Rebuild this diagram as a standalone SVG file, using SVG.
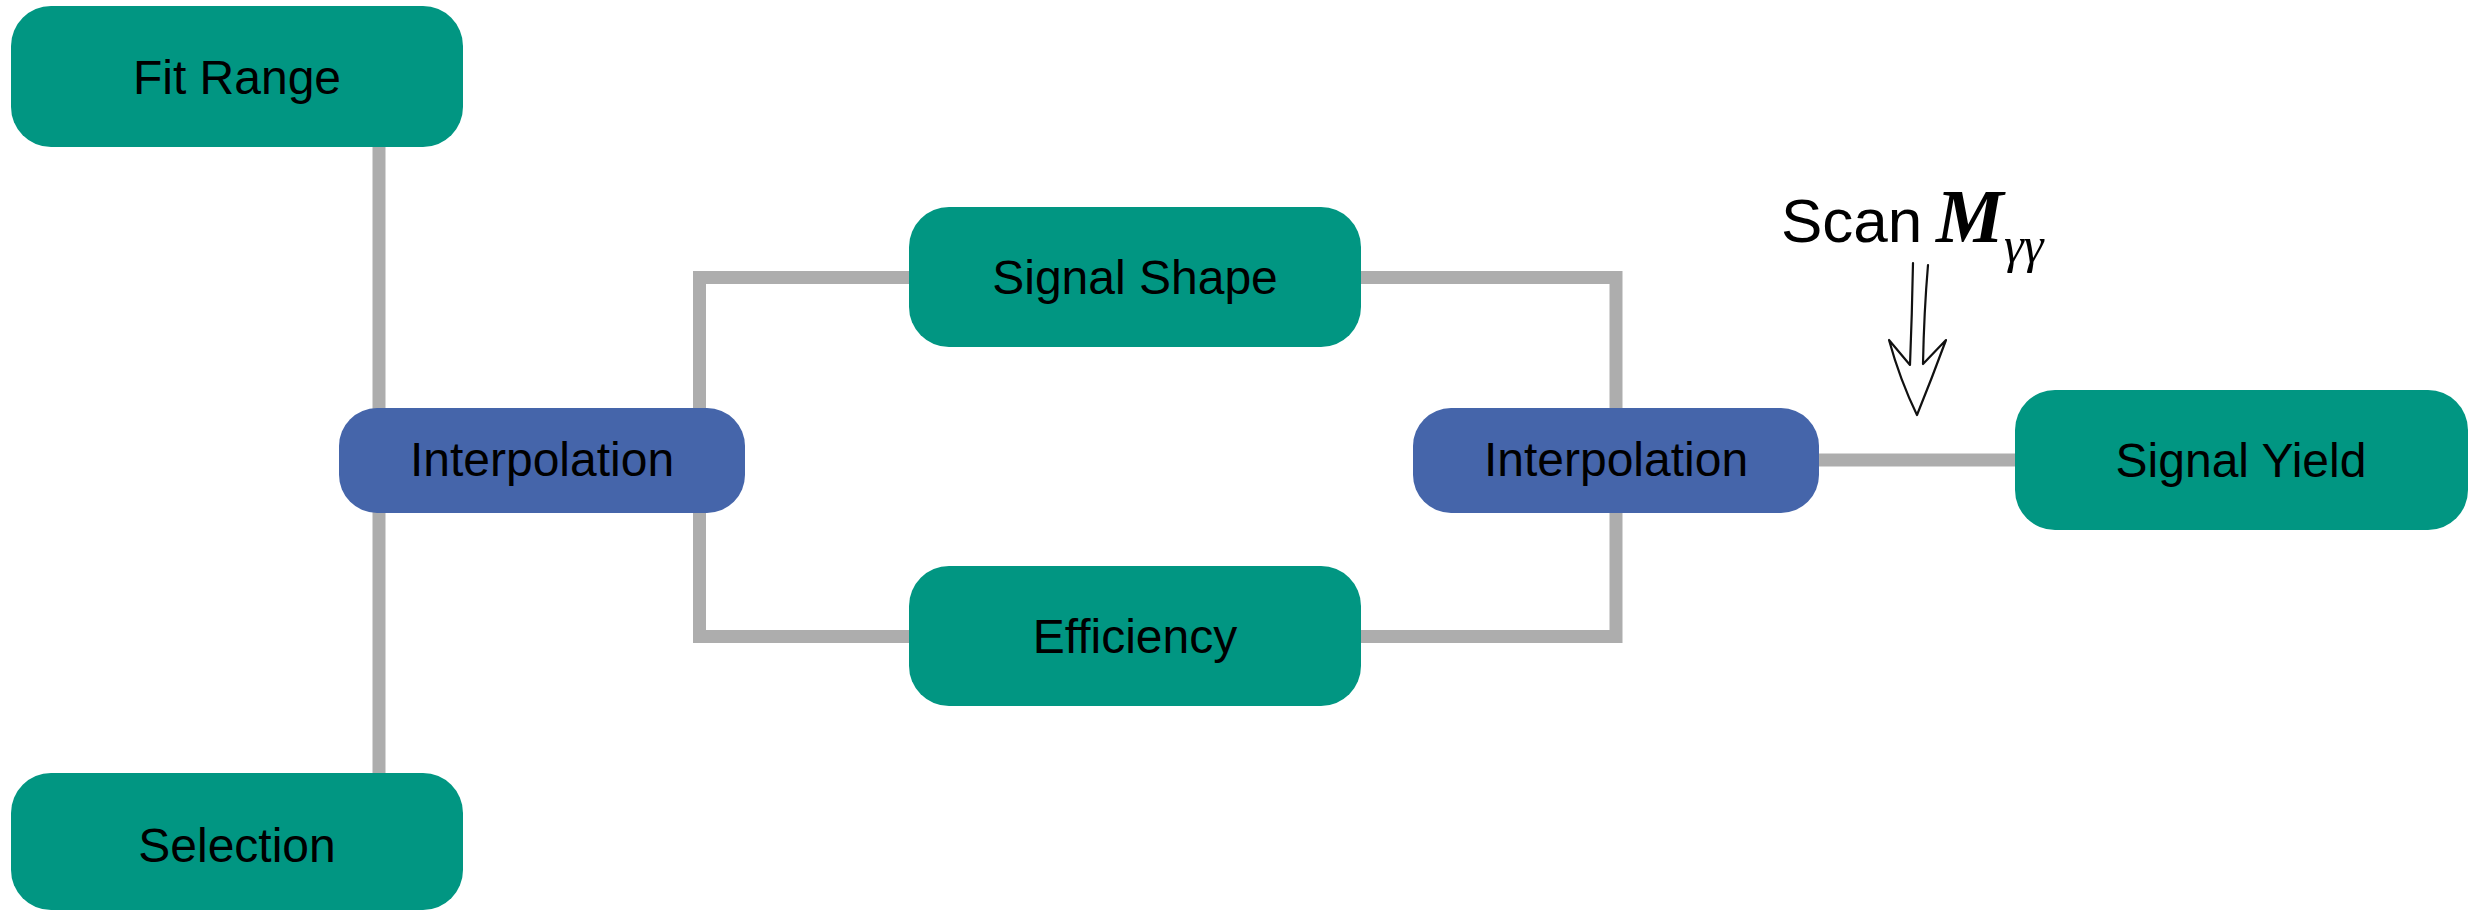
<svg xmlns="http://www.w3.org/2000/svg" width="2475" height="911" viewBox="0 0 2475 911">
  <style>
    .wire { fill: none; stroke: #adadad; stroke-width: 13; stroke-linejoin: miter; stroke-linecap: butt; }
    .step { fill: #019682; }
    .interp { fill: #4565aa; }
    .label { font-family: "Liberation Sans", Arial, sans-serif; font-size: 48px; fill: #000; text-anchor: middle; }
    .scan { font-family: "Liberation Sans", Arial, sans-serif; font-size: 62px; fill: #000; }
    .math { font-family: "Liberation Serif", "Times New Roman", serif; font-style: italic; fill: #000; }
    .pen { fill: none; stroke: #111; stroke-width: 2.2; stroke-linecap: round; stroke-linejoin: round; }
  </style>

  <!-- connectors, drawn beneath the boxes -->
  <g id="connectors">
    <path class="wire" d="M379 147 V773"/>
    <path class="wire" d="M909 277.5 H699.5 V636.5 H909"/>
    <path class="wire" d="M1361 277.5 H1616 V636.5 H1361"/>
    <path class="wire" d="M1819 460 H2015"/>
  </g>

  <g id="fit-range">
    <rect class="step" x="11" y="6" width="452" height="141" rx="40" ry="40"/>
    <text class="label" x="237" y="94">Fit Range</text>
  </g>

  <g id="selection">
    <rect class="step" x="11" y="773" width="452" height="137" rx="40" ry="40"/>
    <text class="label" x="237" y="862">Selection</text>
  </g>

  <g id="interpolation-left">
    <rect class="interp" x="339" y="408" width="406" height="105" rx="38" ry="38"/>
    <text class="label" x="542" y="476">Interpolation</text>
  </g>

  <g id="signal-shape">
    <rect class="step" x="909" y="207" width="452" height="140" rx="40" ry="40"/>
    <text class="label" x="1135" y="294">Signal Shape</text>
  </g>

  <g id="efficiency">
    <rect class="step" x="909" y="566" width="452" height="140" rx="40" ry="40"/>
    <text class="label" x="1135" y="653">Efficiency</text>
  </g>

  <g id="interpolation-right">
    <rect class="interp" x="1413" y="408" width="406" height="105" rx="38" ry="38"/>
    <text class="label" x="1616" y="476">Interpolation</text>
  </g>

  <g id="signal-yield">
    <rect class="step" x="2015" y="390" width="453" height="140" rx="40" ry="40"/>
    <text class="label" x="2241" y="477">Signal Yield</text>
  </g>

  <!-- mass scan annotation with a hand-drawn double arrow -->
  <g id="scan-annotation">
    <text class="scan" x="1781" y="242">Scan</text>
    <text class="math" x="1936" y="242" font-size="76" font-weight="bold">M</text>
    <text class="math" x="2004" y="262" font-size="50">γγ</text>
    <path class="pen" d="M1913 263 Q1912 315 1910 365 L1889 340 Q1900 380 1917 415 Q1932 378 1946 340 L1923 364 Q1924 312 1928 265"/>
  </g>
</svg>
